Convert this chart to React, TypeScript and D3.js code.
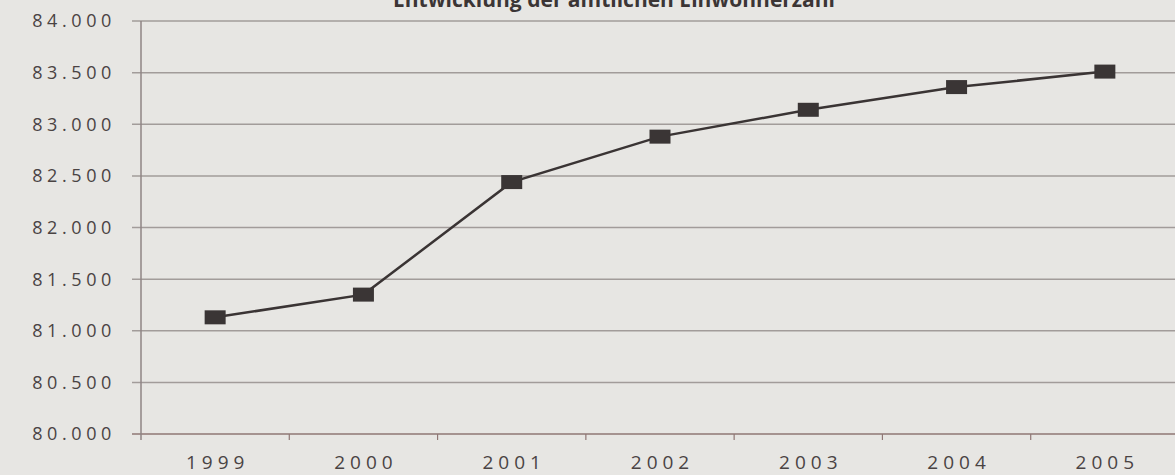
import React from "react";
import * as d3 from "d3";

// Amtliche Einwohnerzahl, 1999–2005
const years = ["1999", "2000", "2001", "2002", "2003", "2004", "2005"];
const population = [81130, 81350, 82440, 82880, 83140, 83360, 83510];
const yTicks = [80000, 80500, 81000, 81500, 82000, 82500, 83000, 83500, 84000];
const title = "Entwicklung der amtlichen Einwohnerzahl";

const W = 1175;
const H = 475;
const left = 141;
const right = 1179;
const top = 21;
const bottom = 434;

const de = d3.formatLocale({ decimal: ",", thousands: ".", grouping: [3], currency: ["", " €"] });
const fmt = de.format(",.0f");

export default function App() {
  const x = d3.scaleBand<string>().domain(years).range([left, right]).paddingInner(0).paddingOuter(0);
  const y = d3.scaleLinear().domain([80000, 84000]).range([bottom, top]);
  const cx = (yr: string) => (x(yr) as number) + x.bandwidth() / 2;

  const line = d3
    .line<number>()
    .x((_, i) => cx(years[i]))
    .y((d) => y(d))
    .curve(d3.curveLinear);

  const textColor = "#4a4343";
  const gridColor = "#a29c9a";

  return (
    <svg
      width={W}
      height={H}
      style={{ position: "absolute", left: 0, top: 0 }}
      fontFamily="'Open Sans', sans-serif"
    >
      <rect x={0} y={0} width={W} height={H} fill="#e7e6e3" />

      <text
        x={614}
        y={7}
        textAnchor="middle"
        fontSize={21}
        fontWeight="bold"
        fill="#3b3535"
      >
        {title}
      </text>

      {/* horizontal gridlines with left tick stubs */}
      {yTicks.map((t) => (
        <line
          key={"g" + t}
          x1={left - 9}
          x2={W}
          y1={y(t)}
          y2={y(t)}
          stroke={t === 80000 ? "#8f7775" : gridColor}
          strokeWidth={1.5}
        />
      ))}

      {/* y axis */}
      <line x1={left} x2={left} y1={top} y2={bottom + 6} stroke="#8f8584" strokeWidth={1.5} />

      {/* x axis ticks at category boundaries */}
      {years.slice(1).map((yr) => (
        <line
          key={"t" + yr}
          x1={x(yr) as number}
          x2={x(yr) as number}
          y1={bottom}
          y2={bottom + 6}
          stroke="#8f7775"
          strokeWidth={1.2}
        />
      ))}

      {yTicks.map((t) => (
        <text
          key={"l" + t}
          x={116}
          y={y(t)}
          dy="0.36em"
          textAnchor="end"
          fontSize={18}
          letterSpacing={4.6}
          fill={textColor}
        >
          {fmt(t)}
        </text>
      ))}

      {years.map((yr) => (
        <text
          key={"x" + yr}
          x={cx(yr) + 2.5}
          y={469}
          textAnchor="middle"
          fontSize={19}
          letterSpacing={5}
          fill={textColor}
        >
          {yr}
        </text>
      ))}

      <path d={line(population) || ""} fill="none" stroke="#3a3434" strokeWidth={2.5} />

      {population.map((v, i) => (
        <rect
          key={"m" + i}
          x={cx(years[i]) - 10.5}
          y={y(v) - 7}
          width={21}
          height={14}
          fill="#3a3535"
        />
      ))}
    </svg>
  );
}
